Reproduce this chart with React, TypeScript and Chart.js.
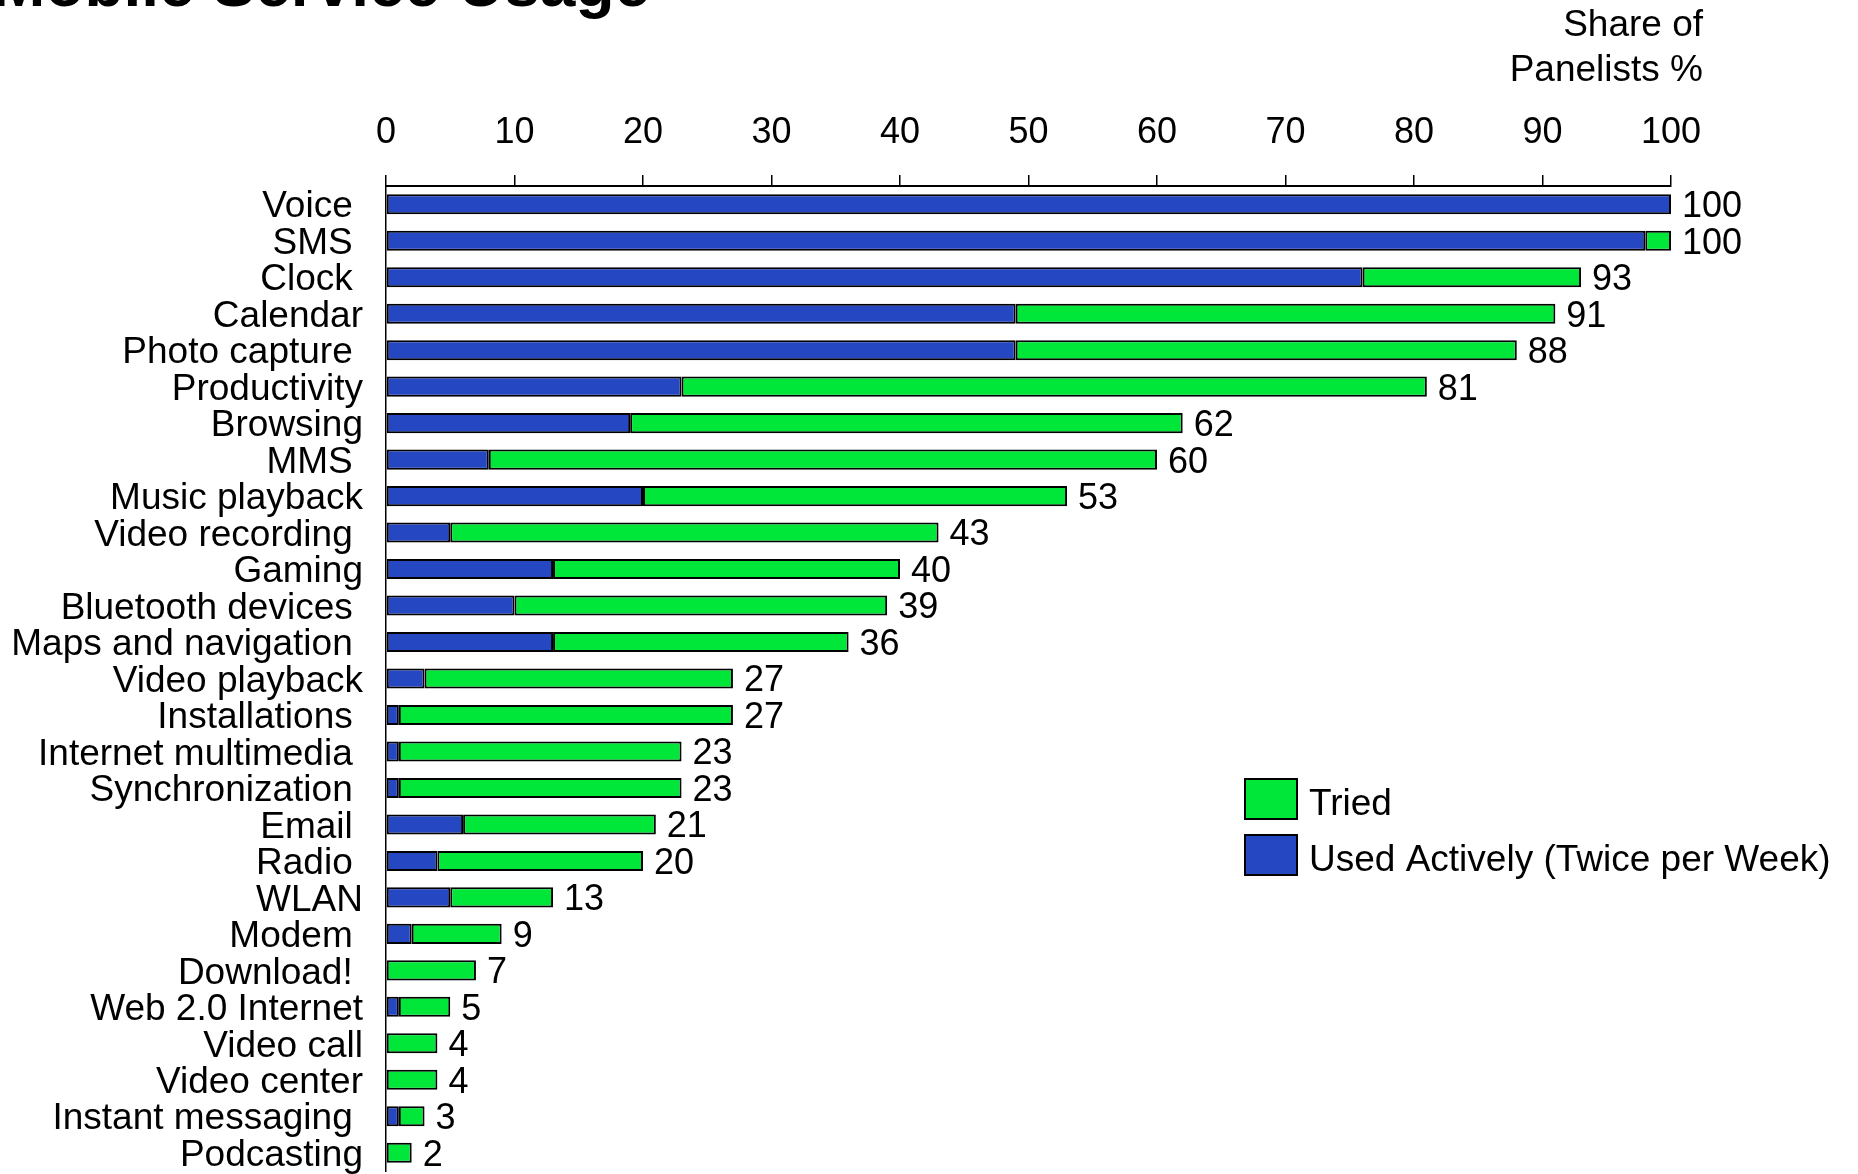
import { useEffect, useRef } from "react";
import { Chart, registerables } from "chart.js";

Chart.register(...registerables);

// Services, top to bottom. Some labels keep a trailing space, as in the source deck.
const categories = [
  "Voice ",
  "SMS ",
  "Clock ",
  "Calendar",
  "Photo capture ",
  "Productivity",
  "Browsing",
  "MMS ",
  "Music playback",
  "Video recording ",
  "Gaming",
  "Bluetooth devices ",
  "Maps and navigation ",
  "Video playback",
  "Installations ",
  "Internet multimedia ",
  "Synchronization ",
  "Email ",
  "Radio ",
  "WLAN",
  "Modem ",
  "Download! ",
  "Web 2.0 Internet",
  "Video call",
  "Video center",
  "Instant messaging ",
  "Podcasting",
];

// Share of panelists (%) who used the service actively (twice per week)
const usedActively = [100, 98, 76, 49, 49, 23, 19, 8, 20, 5, 13, 10, 13, 3, 1, 1, 1, 6, 4, 5, 2, 0, 1, 0, 0, 1, 0];

// Share of panelists (%) who tried the service at all (bar total, printed at the bar end)
const triedTotal = [100, 100, 93, 91, 88, 81, 62, 60, 53, 43, 40, 39, 36, 27, 27, 23, 23, 21, 20, 13, 9, 7, 5, 4, 4, 3, 2];

const xTicks = [0, 10, 20, 30, 40, 50, 60, 70, 80, 90, 100];

const TITLE = "Mobile Service Usage";
const UNIT_LINES = ["Share of", "Panelists %"];
const LEGEND_TRIED = "Tried";
const LEGEND_ACTIVE = "Used Actively (Twice per Week)";

const FONT = '"Liberation Sans", Arial, Helvetica, sans-serif';
const BLUE = "#2647C2";
const GREEN = "#00E639";

// Only the tried-but-not-active part is stacked on top of the active part
const triedOnly = triedTotal.map((t, i) => t - usedActively[i]);

const decorations = {
  id: "decorations",
  afterDatasetsDraw(chart: any) {
    const ctx: CanvasRenderingContext2D = chart.ctx;
    const meta = chart.getDatasetMeta(1);
    ctx.save();
    ctx.fillStyle = "#000";
    ctx.font = `36px ${FONT}`;
    ctx.textAlign = "left";
    ctx.textBaseline = "middle";
    meta.data.forEach((bar: any, i: number) => {
      ctx.fillText(String(triedTotal[i]), bar.x + 11, bar.y + 3);
    });
    ctx.restore();
  },
  afterDraw(chart: any) {
    const ctx: CanvasRenderingContext2D = chart.ctx;
    ctx.save();
    ctx.fillStyle = "#000";

    // Title
    ctx.font = `bold 64px ${FONT}`;
    ctx.textAlign = "left";
    ctx.textBaseline = "alphabetic";
    ctx.fillText(TITLE, -8, 6);

    // Unit note above the top axis
    ctx.font = `37px ${FONT}`;
    ctx.textAlign = "right";
    ctx.fillText(UNIT_LINES[0], 1703, 36);
    ctx.fillText(UNIT_LINES[1], 1703, 81);

    // Legend
    const items = [
      { label: LEGEND_TRIED, color: chart.data.datasets[1].backgroundColor, y: 779 },
      { label: LEGEND_ACTIVE, color: chart.data.datasets[0].backgroundColor, y: 835 },
    ];
    ctx.textAlign = "left";
    ctx.textBaseline = "middle";
    items.forEach((it) => {
      ctx.fillStyle = it.color;
      ctx.fillRect(1245, it.y, 52, 40);
      ctx.strokeStyle = "#000";
      ctx.lineWidth = 2;
      ctx.strokeRect(1245, it.y, 52, 40);
      ctx.fillStyle = "#000";
      ctx.fillText(it.label, 1309, it.y + 26);
    });
    ctx.restore();
  },
};

export default function App() {
  const canvasRef = useRef<HTMLCanvasElement | null>(null);

  useEffect(() => {
    if (!canvasRef.current) return;
    const chart = new Chart(canvasRef.current, {
      type: "bar",
      data: {
        labels: categories,
        datasets: [
          {
            label: LEGEND_ACTIVE,
            data: usedActively,
            backgroundColor: BLUE,
            borderColor: "#000",
            borderWidth: 2,
            borderSkipped: false,
          },
          {
            label: LEGEND_TRIED,
            data: triedOnly,
            backgroundColor: GREEN,
            borderColor: "#000",
            borderWidth: 2,
            borderSkipped: false,
          },
        ],
      },
      options: {
        indexAxis: "y",
        responsive: false,
        animation: false,
        layout: { padding: { top: 0, left: 0, right: 187, bottom: 3 } },
        datasets: {
          bar: { categoryPercentage: 1, barPercentage: 0.55 },
        },
        plugins: {
          legend: { display: false },
          tooltip: { enabled: false },
        },
        scales: {
          x: {
            type: "linear",
            position: "top",
            stacked: true,
            min: 0,
            max: 100,
            afterBuildTicks: (scale: any) => {
              scale.ticks = xTicks.map((v) => ({ value: v }));
            },
            afterFit: (scale: any) => {
              scale.height = 186;
              scale.paddingLeft = 0;
              scale.paddingRight = 0;
            },
            ticks: {
              color: "#000",
              font: { family: FONT, size: 36 },
              padding: 20,
              maxRotation: 0,
            },
            grid: {
              drawOnChartArea: false,
              drawTicks: true,
              tickLength: 11,
              color: "#000",
              lineWidth: 1.5,
            },
            border: { display: true, color: "#000", width: 2 },
          },
          y: {
            type: "category",
            stacked: true,
            afterFit: (scale: any) => {
              scale.width = 386;
              scale.paddingTop = 0;
              scale.paddingBottom = 0;
            },
            ticks: {
              color: "#000",
              font: { family: FONT, size: 37 },
              padding: 23,
              labelOffset: 3,
              autoSkip: false,
            },
            grid: { display: false, drawTicks: false },
            border: { display: true, color: "#000", width: 1.5 },
          },
        },
      },
      plugins: [decorations],
    });
    return () => chart.destroy();
  }, []);

  return (
    <div style={{ position: "fixed", left: 0, top: 0, width: 1858, height: 1174, background: "#fff" }}>
      <canvas ref={canvasRef} width={1858} height={1174} style={{ display: "block" }} />
    </div>
  );
}
